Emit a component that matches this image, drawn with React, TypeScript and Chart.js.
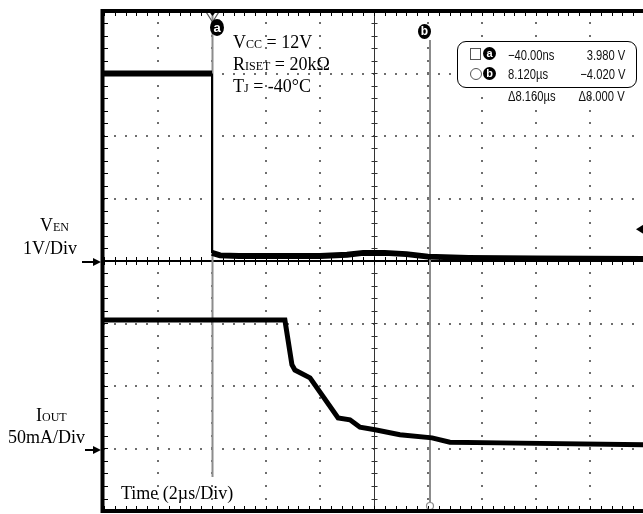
import React, { useEffect, useRef } from "react";
import { Chart, registerables } from "chart.js";

Chart.register(...registerables);

// Time axis: µs (2 µs/div, 10 divisions); vertical axis: screen divisions (8 divisions, centre = 0)
const venTime = [0, 4.0, 4.0, 4.3, 5.0, 6.5, 8.0, 9.0, 9.6, 10.4, 11.2, 12.0, 13.5, 16.0, 20.0];
const venLevel = [3.0, 3.0, 0.13, 0.09, 0.08, 0.08, 0.08, 0.1, 0.13, 0.13, 0.11, 0.07, 0.05, 0.04, 0.03];
const ioutTime = [0, 6.7, 6.96, 7.07, 7.63, 8.67, 9.11, 9.48, 10.04, 10.96, 12.15, 12.81, 14.67, 20];
const ioutLevel = [-0.944, -0.944, -1.66, -1.744, -1.87, -2.51, -2.54, -2.66, -2.7, -2.78, -2.83, -2.9, -2.91, -2.94];

const xMin = 0;
const xMax = 20;
const xMajor = 2;
const yMin = -4;
const yMax = 4;
const yMajor = 1;
const minorPerMajor = 5;

const cursorA = 4.0;
const cursorB = 12.07;
const venGround = 0;
const ioutGround = -3;
const triggerLevel = 0.51;

const graticule = {
  id: "graticule",
  beforeDatasetsDraw(chart: any) {
    const { ctx, chartArea: a, scales } = chart;
    const xs = scales.x;
    const ys = scales.y;
    ctx.save();
    // dotted grid
    ctx.fillStyle = "#6e6e6e";
    const xStepMinor = xMajor / minorPerMajor;
    const yStepMinor = yMajor / minorPerMajor;
    for (let xv = xMin + xMajor; xv < xMax + 1e-6; xv += xMajor) {
      if (Math.abs(xv - (xMin + xMax) / 2) < 1e-6) continue;
      const px = Math.round(xs.getPixelForValue(xv));
      for (let yv = yMin; yv <= yMax + 1e-6; yv += yStepMinor) {
        const py = Math.round(ys.getPixelForValue(yv));
        ctx.fillRect(px - 1, py - 1, 2, 2);
      }
    }
    for (let yv = yMin + yMajor; yv < yMax - 1e-6; yv += yMajor) {
      if (Math.abs(yv) < 1e-6) continue;
      const py = Math.round(ys.getPixelForValue(yv));
      for (let xv = xMin; xv <= xMax + 1e-6; xv += xStepMinor) {
        const px = Math.round(xs.getPixelForValue(xv));
        ctx.fillRect(px - 1, py - 1, 2, 2);
      }
    }
    // centre vertical line with ticks
    const cx = Math.round(xs.getPixelForValue((xMin + xMax) / 2)) + 0.5;
    ctx.strokeStyle = "#333";
    ctx.lineWidth = 1;
    ctx.beginPath();
    ctx.moveTo(cx, a.top);
    ctx.lineTo(cx, a.bottom);
    for (let yv = yMin; yv <= yMax + 1e-6; yv += yStepMinor) {
      const py = Math.round(ys.getPixelForValue(yv)) + 0.5;
      ctx.moveTo(cx - 3, py);
      ctx.lineTo(cx + 3, py);
    }
    ctx.stroke();
    // centre horizontal line with ticks
    const cy = ys.getPixelForValue(0);
    ctx.strokeStyle = "#000";
    ctx.lineWidth = 2;
    ctx.beginPath();
    ctx.moveTo(a.left, cy);
    ctx.lineTo(a.right, cy);
    ctx.stroke();
    ctx.lineWidth = 1;
    ctx.beginPath();
    for (let xv = xMin; xv <= xMax + 1e-6; xv += xStepMinor) {
      const px = Math.round(xs.getPixelForValue(xv)) + 0.5;
      ctx.moveTo(px, cy - 4);
      ctx.lineTo(px, cy + 4);
    }
    ctx.stroke();
    // border ticks
    ctx.strokeStyle = "#000";
    ctx.lineWidth = 1;
    ctx.beginPath();
    for (let xv = xMin; xv <= xMax + 1e-6; xv += xStepMinor) {
      const px = Math.round(xs.getPixelForValue(xv)) + 0.5;
      ctx.moveTo(px, a.top);
      ctx.lineTo(px, a.top + 5);
      ctx.moveTo(px, a.bottom);
      ctx.lineTo(px, a.bottom - 5);
    }
    for (let yv = yMin; yv <= yMax + 1e-6; yv += yStepMinor) {
      const py = Math.round(ys.getPixelForValue(yv)) + 0.5;
      ctx.moveTo(a.left, py);
      ctx.lineTo(a.left + 4, py);
    }
    ctx.stroke();
    // cursors
    ctx.strokeStyle = "#8c8c8c";
    ctx.lineWidth = 2;
    const ax = Math.round(xs.getPixelForValue(cursorA)) + 0.5;
    const bx = Math.round(xs.getPixelForValue(cursorB));
    ctx.beginPath();
    ctx.moveTo(ax, a.top);
    ctx.lineTo(ax, 477);
    ctx.moveTo(bx, 40);
    ctx.lineTo(bx, 502);
    ctx.stroke();
    ctx.lineWidth = 1.2;
    ctx.beginPath();
    ctx.arc(bx, 506, 3.5, 0, Math.PI * 2);
    ctx.stroke();
    // cursor a top marker
    ctx.strokeStyle = "#555";
    ctx.lineWidth = 1.2;
    ctx.beginPath();
    ctx.moveTo(ax - 7, a.top);
    ctx.lineTo(ax + 7, a.top);
    ctx.lineTo(ax, a.top + 11);
    ctx.closePath();
    ctx.stroke();
    ctx.fillStyle = "#000";
    ctx.beginPath();
    ctx.moveTo(ax - 4, a.top);
    ctx.lineTo(ax + 4, a.top);
    ctx.lineTo(ax, a.top + 5);
    ctx.closePath();
    ctx.fill();
    // trigger level marker
    const ty = ys.getPixelForValue(triggerLevel);
    ctx.beginPath();
    ctx.moveTo(636, ty);
    ctx.lineTo(644, ty - 5);
    ctx.lineTo(644, ty + 5);
    ctx.closePath();
    ctx.fill();
    // ground arrows
    ctx.strokeStyle = "#000";
    ctx.lineWidth = 2;
    for (const g of [venGround, ioutGround]) {
      const gy = ys.getPixelForValue(g) + (g === venGround ? 1 : 1.5);
      const x0 = g === venGround ? 82 : 85;
      ctx.beginPath();
      ctx.moveTo(x0, gy);
      ctx.lineTo(96, gy);
      ctx.stroke();
      ctx.beginPath();
      ctx.moveTo(101, gy);
      ctx.lineTo(93, gy - 4);
      ctx.lineTo(93, gy + 4);
      ctx.closePath();
      ctx.fill();
    }
    ctx.restore();
  },
  afterDatasetsDraw(chart: any) {
    const { ctx, chartArea: a } = chart;
    ctx.save();
    ctx.strokeStyle = "#000";
    ctx.lineWidth = 4;
    ctx.beginPath();
    ctx.moveTo(a.left - 1.5, a.bottom + 2);
    ctx.lineTo(a.left - 1.5, a.top - 2);
    ctx.moveTo(a.left - 3.5, a.top);
    ctx.lineTo(a.right + 2, a.top);
    ctx.moveTo(a.left - 3.5, a.bottom);
    ctx.lineTo(a.right + 2, a.bottom);
    ctx.stroke();
    ctx.restore();
  },
};

const serif = '"Liberation Serif", "Times New Roman", serif';
const sans = '"Liberation Sans", Arial, sans-serif';

const T = (p: { left: number; top: number; children: any }) => (
  <div
    style={{
      position: "absolute",
      left: p.left,
      top: p.top,
      fontFamily: serif,
      fontSize: 18,
      lineHeight: "18px",
      whiteSpace: "nowrap",
      color: "#000",
    }}
  >
    {p.children}
  </div>
);

const Sc = (p: { children: any }) => <span style={{ fontSize: 12 }}>{p.children}</span>;

const M = (p: { left?: number; right?: number; top: number; children: any }) => (
  <div
    style={{
      position: "absolute",
      left: p.left,
      right: p.right,
      top: p.top,
      fontFamily: sans,
      fontSize: 14,
      lineHeight: "14px",
      whiteSpace: "nowrap",
      color: "#111",
      transform: "scaleX(0.8)",
      transformOrigin: p.right !== undefined ? "right center" : "left center",
    }}
  >
    {p.children}
  </div>
);

const Badge = (p: { left: number; top: number; w: number; h: number; label: string; size: number }) => (
  <div
    style={{
      position: "absolute",
      left: p.left,
      top: p.top,
      width: p.w,
      height: p.h,
      borderRadius: "50%",
      background: "#000",
      color: "#fff",
      fontFamily: sans,
      fontWeight: "bold",
      fontSize: p.size,
      lineHeight: p.h + "px",
      textAlign: "center",
    }}
  >
    {p.label}
  </div>
);

export default function App() {
  const ref = useRef<HTMLCanvasElement>(null);
  useEffect(() => {
    if (!ref.current) return;
    const chart = new Chart(ref.current, {
      type: "line",
      data: {
        datasets: [
          {
            label: "VEN",
            data: venTime.map((t, i) => ({ x: t, y: venLevel[i] })),
            borderColor: "#000",
            borderWidth: 6,
            pointRadius: 0,
            tension: 0,
            segment: {
              borderWidth: (c: any) => (c.p0.parsed.x === c.p1.parsed.x ? 2 : 6),
            },
          },
          {
            label: "IOUT",
            data: ioutTime.map((t, i) => ({ x: t, y: ioutLevel[i] })),
            borderColor: "#000",
            borderWidth: 5,
            pointRadius: 0,
            tension: 0,
          },
        ],
      },
      options: {
        animation: false,
        responsive: false,
        maintainAspectRatio: false,
        events: [],
        layout: { padding: { left: 104, top: 11, right: 6, bottom: 3 } },
        scales: {
          x: { type: "linear", min: xMin, max: xMax, display: false },
          y: { type: "linear", min: yMin, max: yMax, display: false },
        },
        plugins: { legend: { display: false }, tooltip: { enabled: false } },
      },
      plugins: [graticule],
    } as any);
    return () => chart.destroy();
  }, []);

  return (
    <div
      style={{
        position: "fixed",
        left: 0,
        top: 0,
        width: 643,
        height: 514,
        overflow: "hidden",
        background: "#fff",
      }}
    >
      <canvas ref={ref} width={650} height={514} style={{ position: "absolute", left: 0, top: 0 }} />
      <T left={233} top={33}>
        V<Sc>CC</Sc> = 12V
      </T>
      <T left={233} top={55}>
        R<Sc>ISET</Sc> = 20kΩ
      </T>
      <T left={233} top={77}>
        T<Sc>J</Sc> = -40°C
      </T>
      <T left={40} top={216}>
        V<Sc>EN</Sc>
      </T>
      <T left={23} top={239}>
        1V/Div
      </T>
      <T left={36} top={406}>
        I<Sc>OUT</Sc>
      </T>
      <T left={8} top={428}>
        50mA/Div
      </T>
      <T left={121} top={484}>
        Time (2µs/Div)
      </T>
      <Badge left={210} top={19} w={14} h={17} label="a" size={13} />
      <Badge left={418} top={24} w={13} h={15} label="b" size={12} />
      <div
        style={{
          position: "absolute",
          left: 457,
          top: 41,
          width: 180,
          height: 47,
          border: "1.5px solid #000",
          borderRadius: 9,
          boxSizing: "border-box",
          background: "#fff",
        }}
      />
      <div style={{ position: "absolute", left: 470, top: 48, width: 9, height: 10, border: "1px solid #555" }} />
      <Badge left={483} top={47} w={13} h={13} label="a" size={11} />
      <div
        style={{ position: "absolute", left: 470, top: 68, width: 10, height: 10, border: "1px solid #555", borderRadius: "50%" }}
      />
      <Badge left={483} top={67} w={13} h={13} label="b" size={11} />
      <M left={508} top={48}>−40.00ns</M>
      <M right={18} top={48}>3.980 V</M>
      <M left={508} top={67}>8.120µs</M>
      <M right={18} top={67}>−4.020 V</M>
      <M left={508} top={89}>Δ8.160µs</M>
      <M right={18} top={89}>Δ8.000 V</M>
    </div>
  );
}
